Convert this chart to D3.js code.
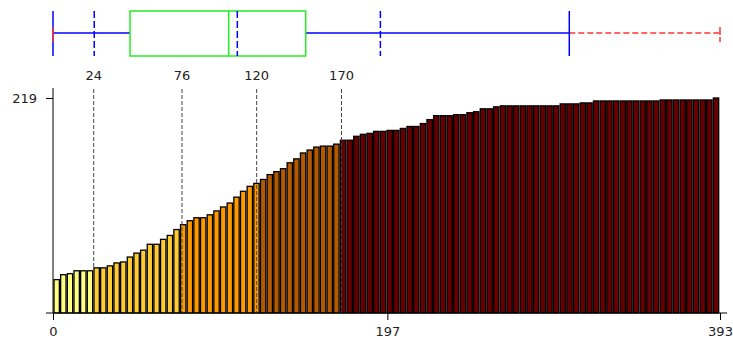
<!DOCTYPE html>
<html>
<head>
<meta charset="utf-8">
<script src="https://cdn.jsdelivr.net/npm/d3@7"></script>
<style>
  html, body { margin: 0; padding: 0; background: #fff; }
  svg { display: block; font-family: "DejaVu Sans", Verdana, sans-serif; }
</style>
</head>
<body>
<div id="chart"></div>
<script>
// bar heights, left to right
const values = [
  34, 39, 40, 43, 43, 43,
  46, 46, 48, 51, 52, 57, 61, 64, 70, 70, 75, 79, 85,
  90, 94, 97, 97, 100, 104, 108, 112, 118, 124, 129, 132,
  136, 141, 144, 147, 153, 157, 163, 166, 169, 170, 170, 172,
  176, 176, 180, 182, 183, 185, 185, 186, 186, 188, 190, 190, 193, 197, 201, 201, 201,
  202, 202, 204, 205, 208, 208, 210, 211, 211, 211, 211, 211, 211, 211, 211, 211,
  213, 213, 213, 214, 214, 216, 216, 216, 216, 216, 216, 216, 216, 216, 216,
  217, 217, 217, 217, 217, 217, 217, 217, 219
];
// how many bars fall in each class, and the class colours
const classCounts = [6, 13, 12, 12, 57];
const classColors = ['#ffff80', '#ffcc33', '#ff9900', '#b35900', '#660000'];
const breaks = [24, 76, 120, 170];

const xTicks = [0, 197, 393];
const yTicks = [219];

// box plot stats
const boxMin = 0;
const boxQ1 = 45.4;
const boxMedian = 103.5;
const boxQ3 = 148.9;
const boxMean = 108.6;
const sdLow = 24.3;
const sdHigh = 192.9;
const whiskerHigh = 304.2;
const boxMax = 393;

const width = 733, height = 340;
const svg = d3.select('#chart').append('svg')
  .attr('width', width)
  .attr('height', height);

const x = d3.scaleLinear().domain([0, 393]).range([53, 720]);
const y = d3.scaleLinear().domain([0, 219]).range([313, 98]);
const band = d3.scaleBand().domain(d3.range(values.length)).range([54, 720]).padding(0);

const barClass = [];
classCounts.forEach((n, c) => { for (let k = 0; k < n; k++) barClass.push(c); });

// bars
const sw = 1.3;
svg.append('g')
  .selectAll('rect')
  .data(values)
  .join('rect')
  .attr('x', (d, i) => band(i))
  .attr('y', d => y(d))
  .attr('width', band.bandwidth() - sw)
  .attr('height', d => y(0) - y(d))
  .attr('fill', (d, i) => classColors[barClass[i]])
  .attr('stroke', '#000')
  .attr('stroke-width', sw);

// class break lines + labels
const brk = svg.append('g');
brk.selectAll('line')
  .data(breaks)
  .join('line')
  .attr('x1', d => x(d)).attr('x2', d => x(d))
  .attr('y1', 89).attr('y2', y(0))
  .attr('stroke', '#444')
  .attr('stroke-dasharray', '4,2');
brk.selectAll('text')
  .data(breaks)
  .join('text')
  .attr('x', d => x(d))
  .attr('y', 80)
  .attr('text-anchor', 'middle')
  .attr('font-size', 13)
  .attr('fill', '#222')
  .text(d => d);

// axes
const xAxis = svg.append('g')
  .attr('transform', `translate(0,${y(0)})`)
  .call(d3.axisBottom(x).tickValues(xTicks).tickSize(7).tickSizeOuter(0));
xAxis.select('.domain').remove();
xAxis.append('line')
  .attr('x1', x(0) - 7).attr('x2', x(393) + 7)
  .attr('stroke', '#000');

const yAxis = svg.append('g')
  .attr('transform', `translate(${x(0)},0)`)
  .call(d3.axisLeft(y).tickValues(yTicks).tickSize(7).tickPadding(9).tickSizeOuter(0));
yAxis.select('.domain').remove();
yAxis.append('line')
  .attr('y1', 88).attr('y2', y(0))
  .attr('stroke', '#000');

svg.selectAll('.tick text')
  .attr('font-size', 13)
  .attr('font-family', '"DejaVu Sans", Verdana, sans-serif')
  .attr('fill', '#222');
xAxis.selectAll('.tick text').attr('dy', '1.0em');

// box plot on top
const cy = 33, boxTop = 11, boxBottom = 56;
const bp = svg.append('g').attr('fill', 'none');

bp.append('line')
  .attr('x1', x(boxMin)).attr('x2', x(boxQ1))
  .attr('y1', cy).attr('y2', cy)
  .attr('stroke', '#0000ff').attr('stroke-width', 1.5);
bp.append('line')
  .attr('x1', x(boxQ3)).attr('x2', x(whiskerHigh))
  .attr('y1', cy).attr('y2', cy)
  .attr('stroke', '#0000ff').attr('stroke-width', 1.5);

// outlier range
bp.append('line')
  .attr('x1', x(whiskerHigh)).attr('x2', x(boxMax))
  .attr('y1', cy).attr('y2', cy)
  .attr('stroke', '#ff3333').attr('stroke-width', 1.5)
  .attr('stroke-dasharray', '6,3');
bp.append('line')
  .attr('x1', x(boxMax)).attr('x2', x(boxMax))
  .attr('y1', cy - 6).attr('y2', cy + 9)
  .attr('stroke', '#ff3333').attr('stroke-width', 1.5)
  .attr('stroke-dasharray', '8,2');

// whisker caps
bp.selectAll('line.cap')
  .data([boxMin, whiskerHigh])
  .join('line')
  .attr('class', 'cap')
  .attr('x1', d => x(d)).attr('x2', d => x(d))
  .attr('y1', boxTop).attr('y2', boxBottom)
  .attr('stroke', '#0000ff').attr('stroke-width', 1.5);
bp.append('line')
  .attr('x1', x(boxMin)).attr('x2', x(boxMin))
  .attr('y1', cy - 6).attr('y2', cy + 9)
  .attr('stroke', '#ff3333').attr('stroke-width', 1.5);

// box and median
bp.append('rect')
  .attr('x', x(boxQ1)).attr('y', boxTop)
  .attr('width', x(boxQ3) - x(boxQ1))
  .attr('height', boxBottom - boxTop)
  .attr('stroke', '#22ee22').attr('stroke-width', 1.5);
bp.append('line')
  .attr('x1', x(boxMedian)).attr('x2', x(boxMedian))
  .attr('y1', boxTop).attr('y2', boxBottom)
  .attr('stroke', '#22ee22').attr('stroke-width', 1.5);

// mean and mean +/- sd
bp.selectAll('line.mean')
  .data([sdLow, boxMean, sdHigh])
  .join('line')
  .attr('class', 'mean')
  .attr('x1', d => x(d)).attr('x2', d => x(d))
  .attr('y1', boxTop).attr('y2', boxBottom)
  .attr('stroke', '#0000ff').attr('stroke-width', 1.5)
  .attr('stroke-dasharray', '7,3');
</script>
</body>
</html>
